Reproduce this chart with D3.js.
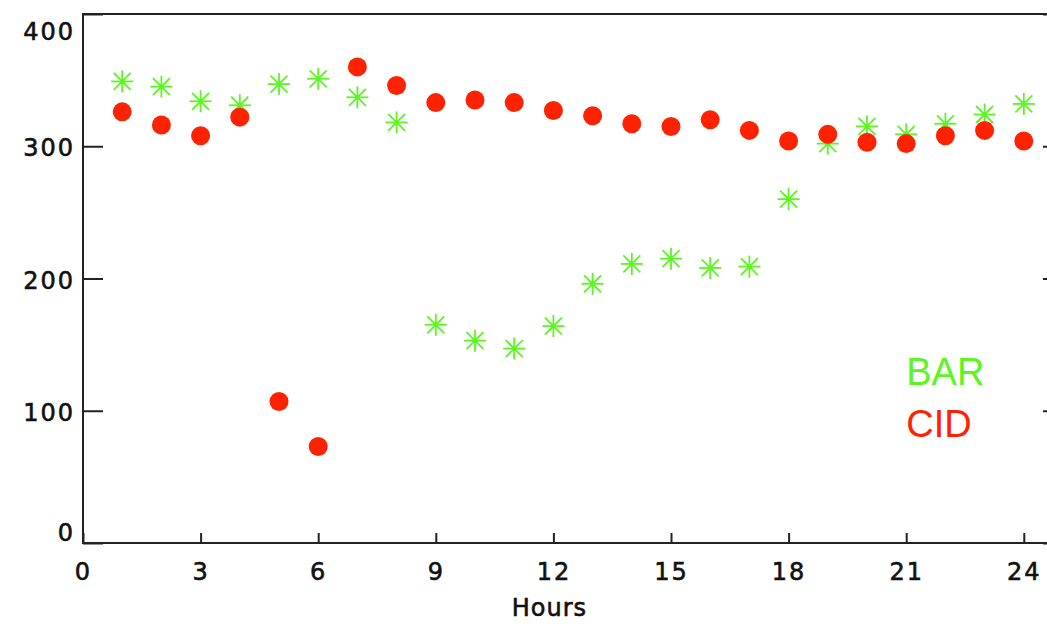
<!DOCTYPE html>
<html>
<head>
<meta charset="utf-8">
<script src="https://cdn.jsdelivr.net/npm/d3@7"></script>
<style>
  body { margin: 0; background: #fff; }
  svg { display: block; }
  .tick text { font-family: "DejaVu Sans", sans-serif; font-size: 24px; letter-spacing: 2px; fill: #111; stroke: #111; stroke-width: 0.6px; }
</style>
</head>
<body>
<svg id="chart" width="1047" height="624"></svg>
<script>
(function() {
    // hours 1..24
    var hours = d3.range(1, 25);
    var barValues = [349, 345, 334, 331, 347, 351, 337, 318, 165, 153, 147, 164,
                     196, 211, 215, 208, 209, 260, 302, 315, 309, 317, 324, 332];
    var cidValues = [326, 316, 308, 322, 107, 73, 360, 346, 333, 335, 333, 327,
                     323, 317, 315, 320, 312, 304, 309, 303, 302, 308, 312, 304];
    var xTicks = [0, 3, 6, 9, 12, 15, 18, 21, 24];
    var yTicks = [0, 100, 200, 300, 400];
    var seriesNames = ["BAR", "CID"];

    var green = "#5cf522", red = "#ff2200";

    var margin = {top: 14, right: -16, bottom: 81, left: 83},
        width = 1047 - margin.left - margin.right,
        height = 624 - margin.top - margin.bottom;

    var svg = d3.select("#chart");
    var chart = svg.append("g")
        .attr("transform", "translate(" + margin.left + "," + margin.top + ")");

    var x = d3.scaleLinear().domain([0, 25]).range([0, width]);
    var y = d3.scaleLinear().domain([0, 400]).range([height, 0]);

    // frame
    chart.append("rect")
        .attr("width", width).attr("height", height)
        .attr("fill", "none").attr("stroke", "#222").attr("stroke-width", 2);

    // bottom axis, ticks pointing up
    var xAxis = chart.append("g")
        .attr("transform", "translate(0," + height + ")")
        .call(d3.axisBottom(x).tickValues(xTicks).tickSizeInner(-10).tickSizeOuter(0).tickPadding(20));
    xAxis.select(".domain").remove();
    xAxis.selectAll("line").attr("stroke", "#222").attr("stroke-width", 2);

    // left axis, ticks pointing right
    var yAxis = chart.append("g")
        .call(d3.axisLeft(y).tickValues(yTicks).tickSizeInner(-20).tickSizeOuter(0).tickPadding(8));
    yAxis.select(".domain").remove();
    yAxis.selectAll("line").attr("stroke", "#222").attr("stroke-width", 2);
    yAxis.selectAll("text")
        .attr("dy", function(d) { return d === 400 ? "1.05em" : d === 0 ? "-0.1em" : "0.4em"; });

    // right axis, ticks pointing left
    var yRight = chart.append("g")
        .attr("transform", "translate(" + width + ",0)")
        .call(d3.axisRight(y).tickValues(yTicks).tickSizeInner(-20).tickSizeOuter(0).tickFormat(""));
    yRight.select(".domain").remove();
    yRight.selectAll("line").attr("stroke", "#222").attr("stroke-width", 2);

    chart.append("text")
        .attr("x", x(11.9)).attr("y", height + 73)
        .attr("text-anchor", "middle")
        .style("font-family", "DejaVu Sans, sans-serif")
        .style("font-size", "24px")
        .style("letter-spacing", "1px")
        .attr("fill", "#111").attr("stroke", "#111").attr("stroke-width", 0.6)
        .text("Hours");

    // BAR stars
    var star = chart.selectAll(".star")
        .data(hours)
        .join("g")
        .attr("class", "star")
        .attr("transform", function(d, i) { return "translate(" + x(d) + "," + y(barValues[i]) + ")"; });
    var rays = [[0, 11], [11, 0], [8.5, 8.5], [8.5, -8.5]];
    rays.forEach(function(r) {
        star.append("line")
            .attr("x1", -r[0]).attr("y1", -r[1])
            .attr("x2", r[0]).attr("y2", r[1])
            .attr("stroke", green).attr("stroke-width", 1.8);
    });
    star.append("circle").attr("r", 2.5).attr("fill", green);

    // CID dots
    chart.selectAll(".dot")
        .data(hours)
        .join("circle")
        .attr("class", "dot")
        .attr("cx", function(d) { return x(d); })
        .attr("cy", function(d, i) { return y(cidValues[i]); })
        .attr("r", 9.5)
        .attr("fill", red);

    // legend
    chart.selectAll(".legend")
        .data(seriesNames)
        .join("text")
        .attr("class", "legend")
        .attr("x", x(21.0))
        .attr("y", function(d, i) { return y(119.5) + i * 52; })
        .style("font-family", "Liberation Sans, Arial, sans-serif")
        .style("font-size", "38px")
        .attr("fill", function(d, i) { return i === 0 ? green : red; })
        .text(function(d) { return d; });
})();
</script>
</body>
</html>
